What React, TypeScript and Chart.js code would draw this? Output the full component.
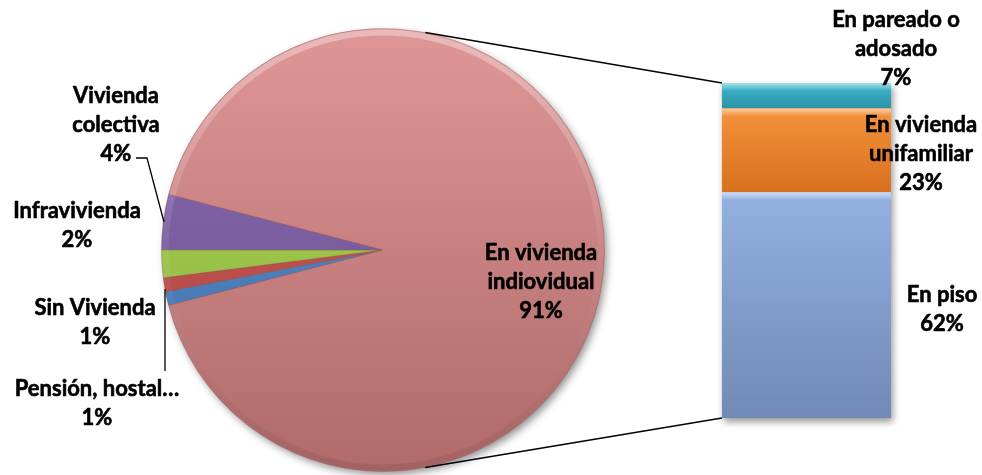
import React, { useEffect, useRef } from "react";
import { Chart, registerables } from "chart.js";

Chart.register(...registerables);

// ---- Data (percent of total) ----
const pieCategories = ["Pensión, hostal…", "Sin Vivienda", "Infravivienda", "Vivienda colectiva", "En vivienda indiovidual"];
const pieLabelLines = [["Pensión, hostal…"], ["Sin Vivienda"], ["Infravivienda"], ["Vivienda", "colectiva"], ["En vivienda", "indiovidual"]];
const pieValues = [1, 1, 2, 4, 91];

const barCategories = ["En piso", "En vivienda unifamiliar", "En pareado o adosado"];
const barLabelLines = [["En piso"], ["En vivienda", "unifamiliar"], ["En pareado o", "adosado"]];
const barValues = [62, 23, 7];

// ---- Styles ----
const pieTop = ["#5b8fcf", "#d0605c", "#b0d857", "#8a6cb0", "#df9696"];
const pieBottom = ["#3f6fa8", "#a8403d", "#86ad3c", "#6a4f8f", "#b06a6a"];
const barTop = ["#93b1e0", "#f5923a", "#3cb8cc"];
const barBottom = ["#7189b6", "#d8701e", "#2a93a8"];

const W = 982;
const H = 475;
const FONT = "bold 22px Lato, 'Open Sans', sans-serif";
const LINE_H = 29;

// label anchor (center of text block) positions
const pieLabelPos = [
  { x: 97, y: 403 },
  { x: 95, y: 322 },
  { x: 77, y: 225 },
  { x: 116, y: 125 },
  { x: 541, y: 282 },
];
const barLabelPos = [
  { x: 942, y: 309 },
  { x: 921, y: 154 },
  { x: 896, y: 49 },
];

function drawLines(ctx: CanvasRenderingContext2D, lines: string[], x: number, y: number) {
  ctx.save();
  ctx.font = FONT;
  ctx.fillStyle = "#000";
  ctx.strokeStyle = "#000";
  ctx.lineWidth = 0.6;
  ctx.lineJoin = "round";
  ctx.textAlign = "center";
  ctx.textBaseline = "middle";
  const start = y - ((lines.length - 1) * LINE_H) / 2;
  lines.forEach((t, i) => {
    ctx.fillText(t, x, start + i * LINE_H);
    ctx.strokeText(t, x, start + i * LINE_H);
  });
  ctx.restore();
}

function vGrad(ctx: CanvasRenderingContext2D, y0: number, y1: number, c0: string, c1: string) {
  const g = ctx.createLinearGradient(0, y0, 0, y1);
  g.addColorStop(0, c0);
  g.addColorStop(1, c1);
  return g;
}

export default function App() {
  const pieRef = useRef<HTMLCanvasElement | null>(null);
  const barRef = useRef<HTMLCanvasElement | null>(null);

  useEffect(() => {
    const pieShadow = {
      id: "pieShadow",
      beforeDatasetsDraw(chart: any) {
        const arc = chart.getDatasetMeta(0).data[0];
        if (!arc) return;
        const c = chart.ctx;
        c.save();
        c.shadowColor = "rgba(0,0,0,0.45)";
        c.shadowBlur = 8;
        c.shadowOffsetX = 3;
        c.shadowOffsetY = 4;
        c.beginPath();
        c.arc(arc.x, arc.y, arc.outerRadius - 1, 0, Math.PI * 2);
        c.fillStyle = "#c07c7c";
        c.fill();
        c.restore();
      },
      afterDraw(chart: any) {
        const c = chart.ctx;
        const meta = chart.getDatasetMeta(0);
        const arc = meta.data[0];
        // soft bevel rim
        c.save();
        c.beginPath();
        c.arc(arc.x, arc.y, arc.outerRadius - 4, 0, Math.PI * 2);
        c.lineWidth = 6;
        const g = c.createLinearGradient(0, arc.y - arc.outerRadius, 0, arc.y + arc.outerRadius);
        g.addColorStop(0, "rgba(255,255,255,0.35)");
        g.addColorStop(0.5, "rgba(255,255,255,0.05)");
        g.addColorStop(1, "rgba(0,0,0,0.08)");
        c.strokeStyle = g;
        c.stroke();
        c.restore();
        // leader lines
        c.save();
        c.strokeStyle = "#000";
        c.lineWidth = 1.3;
        c.beginPath();
        c.moveTo(136, 158);
        c.lineTo(147, 158);
        c.lineTo(164, 222);
        c.stroke();
        c.beginPath();
        c.moveTo(165, 289);
        c.lineTo(165, 371);
        c.stroke();
        c.restore();
        pieLabelLines.forEach((lines, i) => {
          drawLines(c, [...lines, pieValues[i] + "%"], pieLabelPos[i].x, pieLabelPos[i].y);
        });
      },
    };

    const pie = new Chart(pieRef.current!, {
      type: "pie",
      data: {
        labels: pieCategories,
        datasets: [
          {
            data: pieValues,
            backgroundColor: (ctx: any) => {
              const ch = ctx.chart;
              if (!ch.chartArea) return pieTop[ctx.dataIndex];
              const a = ch.chartArea;
              return vGrad(ch.ctx, a.top, a.bottom, pieTop[ctx.dataIndex], pieBottom[ctx.dataIndex]);
            },
            borderColor: "rgba(140,80,80,0.35)",
            borderWidth: 1,
          },
        ],
      },
      options: {
        responsive: false,
        animation: false,
        rotation: 255.5,
        layout: { padding: { left: 161, right: W - 605, top: 28, bottom: H - 472 } },
        plugins: { legend: { display: false }, tooltip: { enabled: false } },
      },
      plugins: [pieShadow],
    });

    const barTotal = barValues.reduce((a, b) => a + b, 0);
    const starts = barValues.map((_, i) => barValues.slice(0, i).reduce((a, b) => a + b, 0));

    const barPlugin = {
      id: "barExtras",
      beforeDatasetsDraw(chart: any) {
        const c = chart.ctx;
        const a = chart.chartArea;
        c.save();
        c.shadowColor = "rgba(0,0,0,0.4)";
        c.shadowBlur = 7;
        c.shadowOffsetX = 2;
        c.shadowOffsetY = 4;
        c.fillStyle = "#7189b6";
        c.fillRect(a.left, a.top, a.right - a.left, a.bottom - a.top);
        c.restore();
      },
      afterDatasetsDraw(chart: any) {
        const c = chart.ctx;
        chart.data.datasets.forEach((_: any, i: number) => {
          const el = chart.getDatasetMeta(i).data[0];
          if (!el) return;
          const left = el.x - el.width / 2;
          const right = el.x + el.width / 2;
          c.save();
          const g = c.createLinearGradient(0, el.y, 0, el.y + 8);
          g.addColorStop(0, "rgba(255,255,255,0.55)");
          g.addColorStop(1, "rgba(255,255,255,0)");
          c.fillStyle = g;
          c.fillRect(left, el.y, right - left, 8);
          c.restore();
        });
      },
      afterDraw(chart: any) {
        const c = chart.ctx;
        const a = chart.chartArea;
        const arc = pie.getDatasetMeta(0).data[0] as any;
        const ang = (79 * Math.PI) / 180;
        c.save();
        c.strokeStyle = "#000";
        c.lineWidth = 1.5;
        c.beginPath();
        c.moveTo(arc.x + Math.cos(-ang) * arc.outerRadius, arc.y + Math.sin(-ang) * arc.outerRadius);
        c.lineTo(a.left, a.top);
        c.stroke();
        c.beginPath();
        c.moveTo(arc.x + Math.cos(ang) * arc.outerRadius, arc.y + Math.sin(ang) * arc.outerRadius);
        c.lineTo(a.left, a.bottom);
        c.stroke();
        c.restore();
        barLabelLines.forEach((lines, i) => {
          drawLines(c, [...lines, barValues[i] + "%"], barLabelPos[i].x, barLabelPos[i].y);
        });
      },
    };

    const bar = new Chart(barRef.current!, {
      type: "bar",
      data: {
        labels: [""],
        datasets: barCategories.map((name, i) => ({
          label: name,
          data: [barValues[i]],
          backgroundColor: (ctx: any) => {
            const ch = ctx.chart;
            if (!ch.chartArea || !ch.scales.y) return barTop[i];
            const y = ch.scales.y;
            const y0 = y.getPixelForValue(starts[i] + barValues[i]);
            const y1 = y.getPixelForValue(starts[i]);
            return vGrad(ch.ctx, y0, y1, barTop[i], barBottom[i]);
          },
          borderWidth: 0,
          barPercentage: 1,
          categoryPercentage: 1,
        })),
      },
      options: {
        responsive: false,
        animation: false,
        layout: { padding: { left: 722, right: W - 891, top: 83, bottom: H - 418 } },
        scales: {
          x: { stacked: true, display: false },
          y: { stacked: true, display: false, min: 0, max: barTotal },
        },
        plugins: { legend: { display: false }, tooltip: { enabled: false } },
      },
      plugins: [barPlugin],
    });

    return () => {
      bar.destroy();
      pie.destroy();
    };
  }, []);

  return (
    <div style={{ position: "absolute", left: 0, top: 0, width: W, height: H, background: "#fff" }}>
      <canvas ref={pieRef} width={W} height={H} style={{ position: "absolute", left: 0, top: 0 }} />
      <canvas ref={barRef} width={W} height={H} style={{ position: "absolute", left: 0, top: 0 }} />
    </div>
  );
}
